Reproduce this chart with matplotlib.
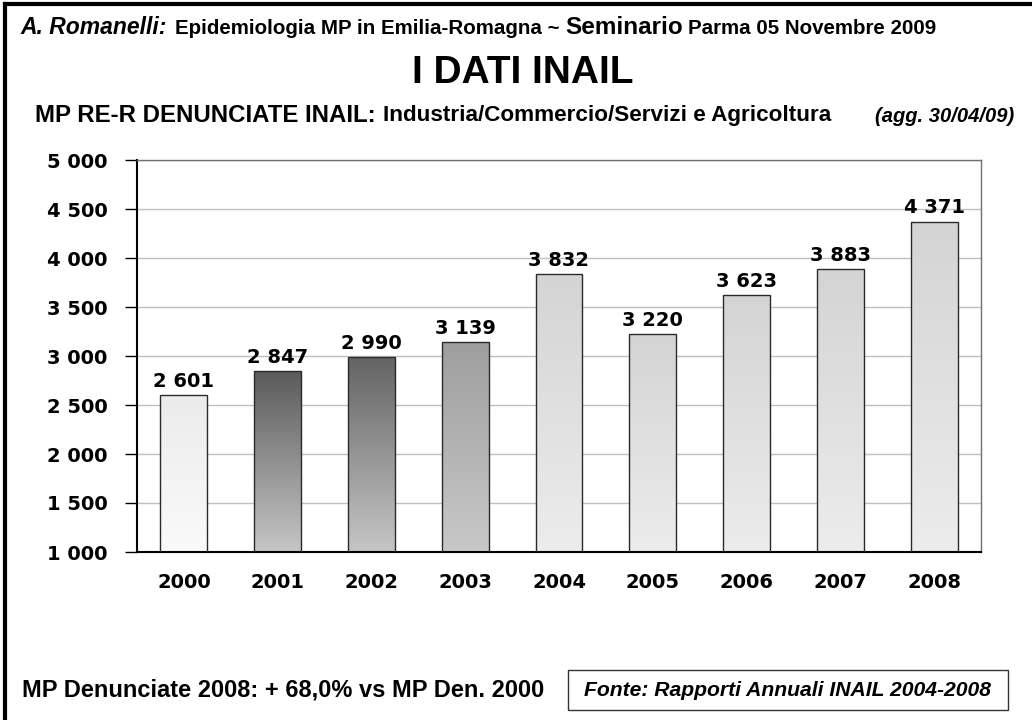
#!/usr/bin/env python3
"""INAIL occupational disease reports, Emilia-Romagna 2000-2008 (slide recreation)."""
import numpy as np
import matplotlib
matplotlib.use("Agg")
import matplotlib.pyplot as plt  # noqa: E402
from matplotlib.colors import LinearSegmentedColormap  # noqa: E402
from matplotlib.patches import Rectangle  # noqa: E402

years = ["2000", "2001", "2002", "2003", "2004", "2005", "2006", "2007", "2008"]
reports = [2601, 2847, 2990, 3139, 3832, 3220, 3623, 3883, 4371]
y_ticks = [1000, 1500, 2000, 2500, 3000, 3500, 4000, 4500, 5000]

# gradient (top, bottom) per bar
SHADES = [("#ebebeb", "#fafafa"), ("#5a5a5a", "#c6c6c6"), ("#636363", "#c6c6c6"),
          ("#9e9e9e", "#c8c8c8")] + [("#d4d4d4", "#ececec")] * 5

NARROW = ["Liberation Sans Narrow", "Liberation Sans", "DejaVu Sans"]
WIDE = ["DejaVu Sans"]
W, H = 1032, 720


def fmt(v):
    return f"{v:,}".replace(",", " ")


def chain(fig, x, y, pieces):
    """Write text pieces one after another on a line, x/y in pixels from top-left."""
    r = fig.canvas.get_renderer()
    for txt, size, style, gap in pieces:
        t = fig.text(x / W, 1 - y / H, txt, fontsize=size, fontweight="bold",
                     fontstyle=style, family=NARROW, va="center", ha="left")
        x = t.get_window_extent(r).x1 + gap


fig = plt.figure(figsize=(W / 100, H / 100), dpi=100)
ax = fig.add_axes([137 / W, 1 - 552 / H, 844 / W, 392 / H])

x = np.arange(len(years))
bars = ax.bar(x, reports, width=0.5, bottom=0, facecolor="none",
              edgecolor="#2a2a2a", lw=1.0, zorder=3)
for b, (top, bot) in zip(bars, SHADES):
    cmap = LinearSegmentedColormap.from_list("g", [bot, top])
    grad = np.linspace(0, 1, 256).reshape(-1, 1)
    im = ax.imshow(grad, cmap=cmap, origin="lower", aspect="auto", zorder=2,
                   extent=[b.get_x(), b.get_x() + b.get_width(), 1000, b.get_height()])
    im.set_clip_path(b)
for xi, v in zip(x, reports):
    ax.annotate(fmt(v), (xi, v), xytext=(0, 3), textcoords="offset points",
                ha="center", va="bottom", fontsize=14, fontweight="bold",
                family=WIDE, zorder=4)

ax.set_xlim(-0.5, len(years) - 0.5)
ax.set_ylim(1000, 5000)
ax.set_yticks(y_ticks)
ax.set_yticklabels([fmt(v) for v in y_ticks])
ax.set_xticks(x)
ax.set_xticklabels(years)
ax.yaxis.grid(True, color="#c0c0c0", lw=1)
ax.set_axisbelow(True)
ax.tick_params(axis="y", length=9, width=1, pad=12, labelsize=14)
ax.tick_params(axis="x", length=0, pad=15, labelsize=14)
for lab in ax.get_xticklabels() + ax.get_yticklabels():
    lab.set_fontweight("bold")
    lab.set_family(WIDE)
for s in ("left", "bottom"):
    ax.spines[s].set_linewidth(1.5)
    ax.spines[s].set_color("black")
for s in ("top", "right"):
    ax.spines[s].set_linewidth(1)
    ax.spines[s].set_color("#707070")

# slide frame
fig.add_artist(plt.Line2D([5 / W, 5 / W], [0, 1 - 4 / H], color="black", lw=3))
fig.add_artist(plt.Line2D([5 / W, 1], [1 - 4 / H, 1 - 4 / H], color="black", lw=3))

chain(fig, 20, 28, [("A. Romanelli:", 16.5, "italic", 9),
                    ("Epidemiologia MP in Emilia-Romagna ~", 14.8, "normal", 5),
                    ("Seminario", 17.5, "normal", 5),
                    ("Parma 05 Novembre 2009", 14.8, "normal", 0)])
fig.text(523 / W, 1 - 73 / H, "I DATI INAIL", fontsize=28, fontweight="bold",
         family=NARROW, ha="center", va="center")
chain(fig, 35, 115, [("MP RE-R DENUNCIATE INAIL:", 17.3, "normal", 7),
                     ("Industria/Commercio/Servizi e Agricoltura", 16.2, "normal", 0)])
fig.text(875 / W, 1 - 116 / H, "(agg. 30/04/09)", fontsize=14.5, fontweight="bold",
         fontstyle="italic", family=NARROW, ha="left", va="center")

fig.text(22 / W, 1 - 690 / H, "MP Denunciate 2008: + 68,0% vs MP Den. 2000",
         fontsize=17, fontweight="bold", family=NARROW, ha="left", va="center")
fig.add_artist(Rectangle((568 / W, 1 - 710 / H), 440 / W, 40 / H,
                         transform=fig.transFigure, fill=False, ec="#333333", lw=1))
fig.text(788 / W, 1 - 690 / H, "Fonte: Rapporti Annuali INAIL 2004-2008",
         fontsize=15.2, fontweight="bold", fontstyle="italic", family=NARROW,
         ha="center", va="center")

fig.savefig("out.png", dpi=100)
